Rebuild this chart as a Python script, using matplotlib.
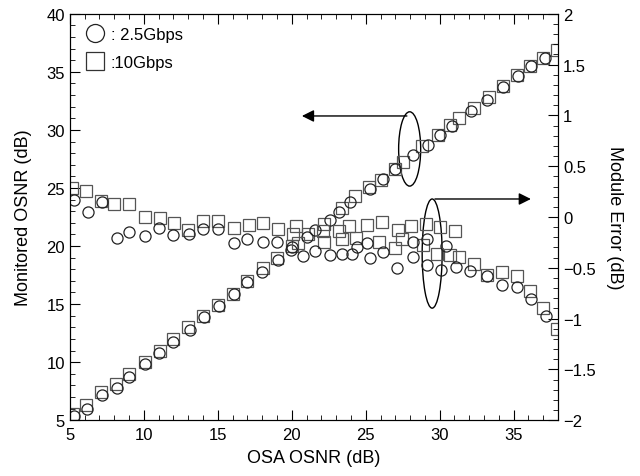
import matplotlib
matplotlib.use("Agg")
import matplotlib.pyplot as plt
from matplotlib.patches import Ellipse
from matplotlib.ticker import MultipleLocator

plt.rcParams['font.family'] = ['Liberation Sans', 'DejaVu Sans']

# Monitored OSNR (left axis)
osnr_c_x = [5.3, 6.17, 7.18, 8.18, 9.0, 10.09, 11.0, 11.98, 13.1, 14.05, 15.07, 16.1, 17.0, 18.0,
            19.07, 19.98, 21.0, 21.6, 22.6, 23.2, 23.95, 25.3, 26.2, 27.0, 28.2, 29.2, 30.0, 30.8,
            32.1, 33.2, 34.3, 35.3, 36.2, 37.1]
osnr_c_y = [5.35, 6.0, 7.2, 7.8, 8.7, 9.8, 10.75, 11.7, 12.8, 13.9, 14.8, 15.9, 16.9, 17.8,
            18.8, 19.7, 20.8, 21.4, 22.2, 22.9, 23.8, 24.9, 25.8, 26.6, 27.8, 28.7, 29.6, 30.3,
            31.6, 32.6, 33.7, 34.6, 35.5, 36.2]
osnr_s_x = [5.2, 6.1, 7.14, 8.1, 9.0, 10.1, 11.1, 12.0, 13.0, 14.0, 15.0, 16.0, 17.0, 18.06,
            19.0, 20.0, 21.1, 22.2, 23.4, 24.3, 25.2, 26.0, 27.0, 27.5, 28.8, 29.9, 30.7, 31.3,
            32.3, 33.3, 34.3, 35.2, 36.1, 37.0, 37.9]
osnr_s_y = [5.5, 6.3, 7.4, 8.1, 9.0, 10.0, 11.0, 12.0, 13.0, 14.0, 14.9, 15.9, 17.0, 18.1,
            19.0, 20.0, 21.0, 21.9, 23.25, 24.3, 25.06, 25.7, 26.6, 27.2, 28.6, 29.6, 30.4, 31.0,
            31.9, 32.8, 33.8, 34.7, 35.5, 36.2, 36.9]

# Module error (right axis)
err_c_x = [5.3, 6.2, 7.2, 8.2, 9.0, 10.1, 11.0, 12.0, 13.05, 14.0, 15.0, 16.1, 17.0, 18.06,
           19.03, 20.0, 20.76, 21.6, 22.57, 23.4, 24.1, 24.4, 25.1, 25.3, 26.2, 27.1, 28.2,
           28.2, 29.15, 29.15, 30.1, 30.4, 31.1, 32.05, 33.2, 34.2, 35.2, 36.2, 37.2]
err_c_y = [0.17, 0.05, 0.15, -0.21, -0.15, -0.19, -0.11, -0.18, -0.17, -0.12, -0.12, -0.26,
           -0.22, -0.25, -0.25, -0.30, -0.38, -0.33, -0.37, -0.36, -0.36, -0.30, -0.26, -0.40,
           -0.34, -0.50, -0.25, -0.39, -0.22, -0.47, -0.52, -0.29, -0.49, -0.53, -0.58, -0.67,
           -0.69, -0.81, -0.97]
err_s_x = [5.16, 6.13, 7.14, 7.99, 8.99, 10.07, 11.08, 12.03, 13.0, 14.0, 15.0, 16.1, 17.1,
           18.06, 19.1, 20.3, 20.1, 20.4, 22.1, 22.2, 23.2, 23.4, 23.9, 24.35, 25.1, 26.1, 25.9,
           27.2, 27.45, 26.96, 28.05, 28.9, 29.05, 29.8, 30.0, 30.7, 31.06, 31.3, 32.3, 33.2,
           34.2, 35.2, 36.1, 37.0, 37.9]
err_s_y = [0.29, 0.26, 0.155, 0.13, 0.13, 0.0, -0.01, -0.06, -0.13, -0.04, -0.04, -0.11, -0.08,
           -0.06, -0.12, -0.09, -0.17, -0.26, -0.14, -0.25, -0.135, -0.22, -0.09, -0.21, -0.08,
           -0.05, -0.25, -0.125, -0.22, -0.31, -0.09, -0.28, -0.07, -0.36, -0.10, -0.37, -0.14,
           -0.39, -0.46, -0.57, -0.54, -0.58, -0.73, -0.90, -1.10]

legend_labels = [': 2.5Gbps', ':10Gbps']

fig = plt.figure(figsize=(6.4, 4.77), dpi=100)
ax = fig.add_axes([0.109, 0.117, 0.763, 0.852])
ax2 = ax.twinx()

ckw = dict(marker='o', linestyle='none', markersize=8, markerfacecolor='none',
           markeredgecolor='#222222', markeredgewidth=0.9)
skw = dict(marker='s', linestyle='none', markersize=8.5, markerfacecolor='none',
           markeredgecolor='#555555', markeredgewidth=0.9)

ax.plot(osnr_s_x, osnr_s_y, **skw)
ax.plot(osnr_c_x, osnr_c_y, **ckw)
ax2.plot(err_s_x, err_s_y, **skw)
ax2.plot(err_c_x, err_c_y, **ckw)

ax.set_xlim(5, 38)
ax.set_ylim(5, 40)
ax2.set_ylim(-2, 2)

ax.xaxis.set_major_locator(MultipleLocator(5))
ax.xaxis.set_minor_locator(MultipleLocator(1))
ax.yaxis.set_major_locator(MultipleLocator(5))
ax.yaxis.set_minor_locator(MultipleLocator(1))
ax2.yaxis.set_major_locator(MultipleLocator(0.5))
ax2.yaxis.set_minor_locator(MultipleLocator(0.1))

ax.tick_params(axis='x', which='both', direction='in', top=True, labelsize=12, pad=5)
ax.tick_params(axis='y', which='both', direction='in', labelsize=12)
ax.tick_params(which='major', length=7)
ax.tick_params(which='minor', length=3.5)
ax2.tick_params(axis='y', which='both', direction='in', labelsize=12)
ax2.tick_params(which='major', length=7)
ax2.tick_params(which='minor', length=3.5)
ax2.set_yticks([-2, -1.5, -1, -0.5, 0, 0.5, 1, 1.5, 2])
ax2.set_yticklabels(['\u22122', '\u22121.5', '\u22121', '\u22120.5', '0', '0.5', '1', '1.5', '2'])

ax.set_xlabel('OSA OSNR (dB)', fontsize=13, labelpad=5)
ax.set_ylabel('Monitored OSNR (dB)', fontsize=13, labelpad=10)
ax2.set_ylabel('Module Error (dB)', fontsize=13, rotation=270, labelpad=20)

# Annotations (ellipses and arrows)
ax.add_patch(Ellipse((27.97, 28.36), 1.49, 6.4, fill=False, edgecolor='black', linewidth=1.0))
ax.annotate('', xy=(20.5, 31.2), xytext=(27.97, 31.2),
            arrowprops=dict(arrowstyle='-|>', color='black', lw=1.0, mutation_scale=18))
ax.add_patch(Ellipse((29.49, 19.35), 1.35, 9.4, fill=False, edgecolor='black', linewidth=1.0))
ax.annotate('', xy=(36.35, 24.05), xytext=(29.49, 24.05),
            arrowprops=dict(arrowstyle='-|>', color='black', lw=1.0, mutation_scale=18))

# Legend
h1, = ax.plot([], [], marker='o', linestyle='none', markersize=13, markerfacecolor='none',
              markeredgecolor='#222222', markeredgewidth=0.9)
h2, = ax.plot([], [], marker='s', linestyle='none', markersize=12.5, markerfacecolor='none',
              markeredgecolor='#333333', markeredgewidth=0.9)
ax.legend([h1, h2], legend_labels, loc='upper left', frameon=False, fontsize=12,
          handletextpad=0.25, handlelength=1.4, borderaxespad=0.4, labelspacing=0.75,
          bbox_to_anchor=(0.0, 1.0))

fig.savefig('out.png', dpi=100)
